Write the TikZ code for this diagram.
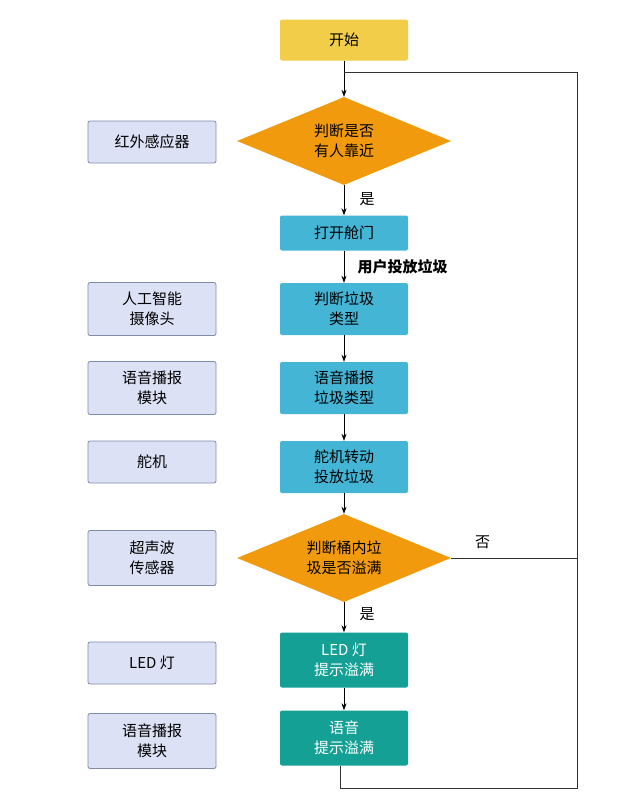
\documentclass[tikz,border=0pt]{standalone}
\usepackage{fontspec}
\setmainfont{Noto Sans CJK SC}
\usetikzlibrary{arrows.meta,positioning,shapes.geometric}
\definecolor{startc}{HTML}{F2CD4A}
\definecolor{decc}{HTML}{F29A0E}
\definecolor{procc}{HTML}{45B5D6}
\definecolor{alertc}{HTML}{14A095}
\definecolor{hwc}{HTML}{DCE1F5}
\definecolor{hwline}{HTML}{7F8BA8}
\begin{document}
\begin{tikzpicture}[
  x=1pt, y=-1pt,
  font=\fontsize{15}{20}\selectfont,
  box/.style={rectangle, rounded corners=2pt, minimum width=128pt, align=center, inner sep=2pt},
  dec/.style={diamond, fill=decc, minimum width=214pt, minimum height=88pt, aspect=2.4, inner sep=0pt, align=center},
  hw/.style={rectangle, draw=hwline, fill=hwc, rounded corners=2pt, minimum width=128pt, align=center, thick},
  arrow/.style={-{Stealth[length=7pt,width=5pt]}, thick},
  line/.style={thick, draw=black!80}
]
\useasboundingbox (0,0) rectangle (635,795);

% main flow
\node[box, fill=startc, minimum height=41pt] (start) at (344,40) {开始};
\node[dec] (near) at (344,141) {判断是否\\有人靠近};
\node[box, fill=procc, minimum height=35pt] (open) at (344,233) {打开舱门};
\node[box, fill=procc, minimum height=52pt] (type) at (344,309) {判断垃圾\\类型};
\node[box, fill=procc, minimum height=52pt] (say) at (344,388) {语音播报\\垃圾类型};
\node[box, fill=procc, minimum height=52pt] (servo) at (344,467) {舵机转动\\投放垃圾};
\node[dec] (full) at (344,558) {判断桶内垃\\圾是否溢满};
\node[box, fill=alertc, text=white, minimum height=55pt] (led) at (344,660) {LED 灯\\提示溢满};
\node[box, fill=alertc, text=white, minimum height=55pt] (voice) at (344,738) {语音\\提示溢满};

% hardware
\node[hw, minimum height=42pt] (hwir) at (152,142) {红外感应器};
\node[hw, minimum height=53pt] (hwcam) at (152,309) {人工智能\\摄像头};
\node[hw, minimum height=53pt] (hwspk) at (152,388) {语音播报\\模块};
\node[hw, minimum height=42pt] (hwservo) at (152,462) {舵机};
\node[hw, minimum height=55pt] (hwsonic) at (152,558) {超声波\\传感器};
\node[hw, minimum height=42pt] (hwled) at (152,663) {LED 灯};
\node[hw, minimum height=55pt] (hwspk2) at (152,741) {语音播报\\模块};

% loop points
\coordinate (join) at (344,72);
\coordinate (rtop) at (577,72);
\coordinate (rmid) at (577,558);
\coordinate (rbot) at (577,788);
\coordinate (lbot) at (340,788);

% arrows
\draw[arrow] (start) -- (near);
\draw[arrow] (near) -- node[right=12pt, pos=0.45] {是} (open);
\draw[arrow] (open) -- node[right=10pt, font=\fontsize{15}{20}\selectfont\bfseries] {用户投放垃圾} (type);
\draw[arrow] (type) -- (say);
\draw[arrow] (say) -- (servo);
\draw[arrow] (servo) -- (full);
\draw[arrow] (full) -- node[right=12pt, pos=0.4] {是} (led);
\draw[arrow] (led) -- (voice);
\draw[line] (full.east) -- node[above=6pt, pos=0.25] {否} (rmid);
\draw[line] (voice.south -| lbot) -- (lbot) -- (rbot) -- (rtop) -- (join);

\end{tikzpicture}
\end{document}
